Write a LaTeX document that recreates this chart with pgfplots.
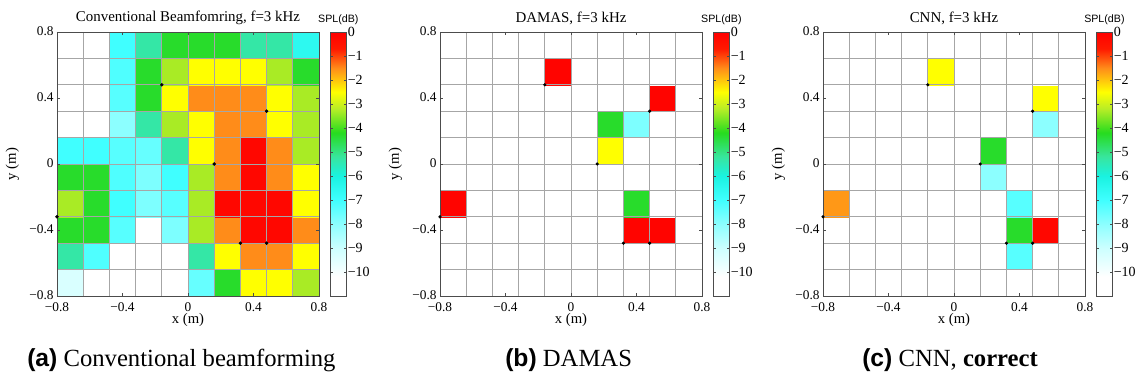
\documentclass[border=0pt]{standalone}
\usepackage{fontspec}
\setmainfont{Liberation Serif}
\setsansfont{Liberation Sans}
\usepackage{pgfplots}
\usepackage{pgfplotstable}
\pgfplotsset{compat=1.18}

\pgfplotsset{
  colormap={spl}{
    rgb(0cm)=(1,1,1);
    rgb(0.8cm)=(1,1,1);
    rgb(2cm)=(0.8,1,1);
    rgb(3cm)=(0.55,1,1);
    rgb(4cm)=(0.25,1,1);
    rgb(5cm)=(0.1,0.95,0.88);
    rgb(5.8cm)=(0.22,0.9,0.62);
    rgb(6.8cm)=(0.15,0.86,0.12);
    rgb(7.8cm)=(0.72,0.93,0.15);
    rgb(8.5cm)=(1,1,0);
    rgb(9.5cm)=(1,0.55,0.1);
    rgb(10.3cm)=(1,0.1,0);
    rgb(11cm)=(1,0,0)
  },
  splaxis/.style={
    scale only axis, width=196.5pt, height=198pt,
    anchor=south west,
    xmin=-0.8, xmax=0.8, ymin=-0.8, ymax=0.8,
    xtick={-0.8,-0.4,0,0.4,0.8}, ytick={-0.8,-0.4,0,0.4,0.8},
    xticklabels={−0.8,−0.4,0,0.4,0.8},
    yticklabels={−0.8,−0.4,0,0.4,0.8},
    minor xtick={-0.64,-0.48,-0.32,-0.16,0,0.16,0.32,0.48,0.64},
    minor ytick={-0.64,-0.48,-0.32,-0.16,0,0.16,0.32,0.48,0.64},
    grid=minor, minor grid style={gray!70, line width=0.5pt},
    minor tick length=0pt, major tick length=2pt, tick align=inside,
    axis on top, clip=false,
    axis line style={gray!60!black},
    tick style={gray!60!black},
    tick label style={font=\fontsize{10}{12}\selectfont},
    xticklabel style={yshift=-1.5pt},
    yticklabel style={xshift=1pt, yshift=1pt},
    xlabel={x (m)}, ylabel={y (m)},
    label style={font=\fontsize{11}{13}\selectfont},
    xlabel style={yshift=5.5pt},
    ylabel style={yshift=1pt},
    title style={font=\fontsize{11.2}{13}\selectfont, yshift=-4pt},
    colormap name=spl, point meta min=-11, point meta max=0,
    colorbar,
    colorbar style={
      at={(parent axis.north east)}, anchor=north west,
      width=12pt,
      ytick={-10,-9,-8,-7,-6,-5,-4,-3,-2,-1,0},
      yticklabels={−10,−9,−8,−7,−6,−5,−4,−3,−2,−1,0},
      yticklabel style={font=\fontsize{10.5}{12}\selectfont, xshift=-2.5pt},
      major tick length=2pt,
      axis line style={gray!60!black},
      tick style={gray!60!black},
      title={SPL(dB)},
      title style={font=\sffamily\fontsize{8}{9}\selectfont, yshift=-4pt},
    },
  },
}

\pgfplotstableread[row sep=\\]{
x y c\\
-0.72 -0.72 -9.3\\ -0.56 -0.72 -11\\ -0.40 -0.72 -11\\ -0.24 -0.72 -11\\ -0.08 -0.72 -11\\ 0.08 -0.72 -7.5\\ 0.24 -0.72 -4.3\\ 0.40 -0.72 -2.5\\ 0.56 -0.72 -2.5\\ 0.72 -0.72 -3.3\\
-0.72 -0.56 -5.3\\ -0.56 -0.56 -7.2\\ -0.40 -0.56 -11\\ -0.24 -0.56 -11\\ -0.08 -0.56 -11\\ 0.08 -0.56 -5.3\\ 0.24 -0.56 -2.5\\ 0.40 -0.56 -1.5\\ 0.56 -0.56 -1.5\\ 0.72 -0.56 -2.5\\
-0.72 -0.40 -4.3\\ -0.56 -0.40 -4.3\\ -0.40 -0.40 -7.3\\ -0.24 -0.40 -11\\ -0.08 -0.40 -7.8\\ 0.08 -0.40 -3.3\\ 0.24 -0.40 -1.5\\ 0.40 -0.40 -0.2\\ 0.56 -0.40 -0.2\\ 0.72 -0.40 -1.5\\
-0.72 -0.24 -3.3\\ -0.56 -0.24 -4.3\\ -0.40 -0.24 -7.0\\ -0.24 -0.24 -7.8\\ -0.08 -0.24 -7.3\\ 0.08 -0.24 -3.3\\ 0.24 -0.24 -0.2\\ 0.40 -0.24 -0.2\\ 0.56 -0.24 -0.2\\ 0.72 -0.24 -2.5\\
-0.72 -0.08 -4.3\\ -0.56 -0.08 -4.3\\ -0.40 -0.08 -7.2\\ -0.24 -0.08 -7.8\\ -0.08 -0.08 -7.0\\ 0.08 -0.08 -3.3\\ 0.24 -0.08 -1.5\\ 0.40 -0.08 -0.2\\ 0.56 -0.08 -1.5\\ 0.72 -0.08 -2.5\\
-0.72 0.08 -7.0\\ -0.56 0.08 -7.0\\ -0.40 0.08 -7.3\\ -0.24 0.08 -7.5\\ -0.08 0.08 -5.3\\ 0.08 0.08 -2.5\\ 0.24 0.08 -1.5\\ 0.40 0.08 -0.2\\ 0.56 0.08 -1.5\\ 0.72 0.08 -3.3\\
-0.72 0.24 -11\\ -0.56 0.24 -11\\ -0.40 0.24 -8.0\\ -0.24 0.24 -5.3\\ -0.08 0.24 -3.3\\ 0.08 0.24 -2.5\\ 0.24 0.24 -1.5\\ 0.40 0.24 -1.5\\ 0.56 0.24 -2.5\\ 0.72 0.24 -3.3\\
-0.72 0.40 -11\\ -0.56 0.40 -11\\ -0.40 0.40 -7.3\\ -0.24 0.40 -4.3\\ -0.08 0.40 -2.5\\ 0.08 0.40 -1.5\\ 0.24 0.40 -1.5\\ 0.40 0.40 -1.5\\ 0.56 0.40 -2.5\\ 0.72 0.40 -3.3\\
-0.72 0.56 -11\\ -0.56 0.56 -11\\ -0.40 0.56 -7.2\\ -0.24 0.56 -4.3\\ -0.08 0.56 -3.3\\ 0.08 0.56 -2.5\\ 0.24 0.56 -2.5\\ 0.40 0.56 -2.5\\ 0.56 0.56 -3.3\\ 0.72 0.56 -4.3\\
-0.72 0.72 -11\\ -0.56 0.72 -11\\ -0.40 0.72 -7.0\\ -0.24 0.72 -5.3\\ -0.08 0.72 -4.3\\ 0.08 0.72 -4.3\\ 0.24 0.72 -4.3\\ 0.40 0.72 -5.3\\ 0.56 0.72 -5.3\\ 0.72 0.72 -6.5\\
}\cbf

\pgfplotstableread[row sep=\\]{
x y c\\
-0.72 -0.72 -11\\ -0.56 -0.72 -11\\ -0.40 -0.72 -11\\ -0.24 -0.72 -11\\ -0.08 -0.72 -11\\ 0.08 -0.72 -11\\ 0.24 -0.72 -11\\ 0.40 -0.72 -11\\ 0.56 -0.72 -11\\ 0.72 -0.72 -11\\
-0.72 -0.56 -11\\ -0.56 -0.56 -11\\ -0.40 -0.56 -11\\ -0.24 -0.56 -11\\ -0.08 -0.56 -11\\ 0.08 -0.56 -11\\ 0.24 -0.56 -11\\ 0.40 -0.56 -11\\ 0.56 -0.56 -11\\ 0.72 -0.56 -11\\
-0.72 -0.40 -11\\ -0.56 -0.40 -11\\ -0.40 -0.40 -11\\ -0.24 -0.40 -11\\ -0.08 -0.40 -11\\ 0.08 -0.40 -11\\ 0.24 -0.40 -11\\ 0.40 -0.40 -0.1\\ 0.56 -0.40 -0.1\\ 0.72 -0.40 -11\\
-0.72 -0.24 -0.1\\ -0.56 -0.24 -11\\ -0.40 -0.24 -11\\ -0.24 -0.24 -11\\ -0.08 -0.24 -11\\ 0.08 -0.24 -11\\ 0.24 -0.24 -11\\ 0.40 -0.24 -4.3\\ 0.56 -0.24 -11\\ 0.72 -0.24 -11\\
-0.72 -0.08 -11\\ -0.56 -0.08 -11\\ -0.40 -0.08 -11\\ -0.24 -0.08 -11\\ -0.08 -0.08 -11\\ 0.08 -0.08 -11\\ 0.24 -0.08 -11\\ 0.40 -0.08 -11\\ 0.56 -0.08 -11\\ 0.72 -0.08 -11\\
-0.72 0.08 -11\\ -0.56 0.08 -11\\ -0.40 0.08 -11\\ -0.24 0.08 -11\\ -0.08 0.08 -11\\ 0.08 0.08 -11\\ 0.24 0.08 -2.5\\ 0.40 0.08 -11\\ 0.56 0.08 -11\\ 0.72 0.08 -11\\
-0.72 0.24 -11\\ -0.56 0.24 -11\\ -0.40 0.24 -11\\ -0.24 0.24 -11\\ -0.08 0.24 -11\\ 0.08 0.24 -11\\ 0.24 0.24 -4.3\\ 0.40 0.24 -7.8\\ 0.56 0.24 -11\\ 0.72 0.24 -11\\
-0.72 0.40 -11\\ -0.56 0.40 -11\\ -0.40 0.40 -11\\ -0.24 0.40 -11\\ -0.08 0.40 -11\\ 0.08 0.40 -11\\ 0.24 0.40 -11\\ 0.40 0.40 -11\\ 0.56 0.40 -0.1\\ 0.72 0.40 -11\\
-0.72 0.56 -11\\ -0.56 0.56 -11\\ -0.40 0.56 -11\\ -0.24 0.56 -11\\ -0.08 0.56 -0.1\\ 0.08 0.56 -11\\ 0.24 0.56 -11\\ 0.40 0.56 -11\\ 0.56 0.56 -11\\ 0.72 0.56 -11\\
-0.72 0.72 -11\\ -0.56 0.72 -11\\ -0.40 0.72 -11\\ -0.24 0.72 -11\\ -0.08 0.72 -11\\ 0.08 0.72 -11\\ 0.24 0.72 -11\\ 0.40 0.72 -11\\ 0.56 0.72 -11\\ 0.72 0.72 -11\\
}\damas

\pgfplotstableread[row sep=\\]{
x y c\\
-0.72 -0.72 -11\\ -0.56 -0.72 -11\\ -0.40 -0.72 -11\\ -0.24 -0.72 -11\\ -0.08 -0.72 -11\\ 0.08 -0.72 -11\\ 0.24 -0.72 -11\\ 0.40 -0.72 -11\\ 0.56 -0.72 -11\\ 0.72 -0.72 -11\\
-0.72 -0.56 -11\\ -0.56 -0.56 -11\\ -0.40 -0.56 -11\\ -0.24 -0.56 -11\\ -0.08 -0.56 -11\\ 0.08 -0.56 -11\\ 0.24 -0.56 -11\\ 0.40 -0.56 -7.3\\ 0.56 -0.56 -11\\ 0.72 -0.56 -11\\
-0.72 -0.40 -11\\ -0.56 -0.40 -11\\ -0.40 -0.40 -11\\ -0.24 -0.40 -11\\ -0.08 -0.40 -11\\ 0.08 -0.40 -11\\ 0.24 -0.40 -11\\ 0.40 -0.40 -4.3\\ 0.56 -0.40 -0.2\\ 0.72 -0.40 -11\\
-0.72 -0.24 -1.6\\ -0.56 -0.24 -11\\ -0.40 -0.24 -11\\ -0.24 -0.24 -11\\ -0.08 -0.24 -11\\ 0.08 -0.24 -11\\ 0.24 -0.24 -11\\ 0.40 -0.24 -7.3\\ 0.56 -0.24 -11\\ 0.72 -0.24 -11\\
-0.72 -0.08 -11\\ -0.56 -0.08 -11\\ -0.40 -0.08 -11\\ -0.24 -0.08 -11\\ -0.08 -0.08 -11\\ 0.08 -0.08 -11\\ 0.24 -0.08 -8.0\\ 0.40 -0.08 -11\\ 0.56 -0.08 -11\\ 0.72 -0.08 -11\\
-0.72 0.08 -11\\ -0.56 0.08 -11\\ -0.40 0.08 -11\\ -0.24 0.08 -11\\ -0.08 0.08 -11\\ 0.08 0.08 -11\\ 0.24 0.08 -4.3\\ 0.40 0.08 -11\\ 0.56 0.08 -11\\ 0.72 0.08 -11\\
-0.72 0.24 -11\\ -0.56 0.24 -11\\ -0.40 0.24 -11\\ -0.24 0.24 -11\\ -0.08 0.24 -11\\ 0.08 0.24 -11\\ 0.24 0.24 -11\\ 0.40 0.24 -11\\ 0.56 0.24 -8.0\\ 0.72 0.24 -11\\
-0.72 0.40 -11\\ -0.56 0.40 -11\\ -0.40 0.40 -11\\ -0.24 0.40 -11\\ -0.08 0.40 -11\\ 0.08 0.40 -11\\ 0.24 0.40 -11\\ 0.40 0.40 -11\\ 0.56 0.40 -2.5\\ 0.72 0.40 -11\\
-0.72 0.56 -11\\ -0.56 0.56 -11\\ -0.40 0.56 -11\\ -0.24 0.56 -11\\ -0.08 0.56 -2.5\\ 0.08 0.56 -11\\ 0.24 0.56 -11\\ 0.40 0.56 -11\\ 0.56 0.56 -11\\ 0.72 0.56 -11\\
-0.72 0.72 -11\\ -0.56 0.72 -11\\ -0.40 0.72 -11\\ -0.24 0.72 -11\\ -0.08 0.72 -11\\ 0.08 0.72 -11\\ 0.24 0.72 -11\\ 0.40 0.72 -11\\ 0.56 0.72 -11\\ 0.72 0.72 -11\\
}\cnn

\pgfplotstableread[row sep=\\]{
x y\\
-0.16 0.48\\ 0.48 0.32\\ 0.16 0\\ -0.8 -0.32\\ 0.32 -0.48\\ 0.48 -0.48\\
}\sources

\begin{document}
\begin{tikzpicture}
\path[use as bounding box] (0,0) rectangle (856.5pt,285.75pt);

\begin{axis}[splaxis, at={(42.75pt,63.75pt)}, title={Conventional Beamfomring, f=3 kHz}]
\addplot[matrix plot*, mesh/cols=10, point meta=explicit] table[x=x, y=y, meta=c] {\cbf};
\addplot[only marks, mark=*, mark size=1.1pt, black] table[x=x, y=y] {\sources};
\end{axis}

\begin{axis}[splaxis, at={(330pt,63.75pt)}, title={DAMAS, f=3 kHz}]
\addplot[matrix plot*, mesh/cols=10, point meta=explicit] table[x=x, y=y, meta=c] {\damas};
\addplot[only marks, mark=*, mark size=1.0pt, black] table[x=x, y=y] {\sources};
\end{axis}

\begin{axis}[splaxis, at={(617.25pt,63.75pt)}, title={CNN, f=3 kHz}]
\addplot[matrix plot*, mesh/cols=10, point meta=explicit] table[x=x, y=y, meta=c] {\cnn};
\addplot[only marks, mark=*, mark size=1.0pt, black] table[x=x, y=y] {\sources};
\end{axis}

\node[anchor=base west, inner sep=0pt, font=\fontsize{18.5}{20}\selectfont] at (20.25pt,10.5pt) {\textsf{\bfseries (a)} Conventional beamforming};
\node[anchor=base west, inner sep=0pt, font=\fontsize{18.5}{20}\selectfont] at (378.75pt,10.5pt) {\textsf{\bfseries (b)} DAMAS};
\node[anchor=base west, inner sep=0pt, font=\fontsize{18.5}{20}\selectfont] at (646.5pt,10.5pt) {\textsf{\bfseries (c)} CNN, \textbf{correct}};
\end{tikzpicture}
\end{document}
